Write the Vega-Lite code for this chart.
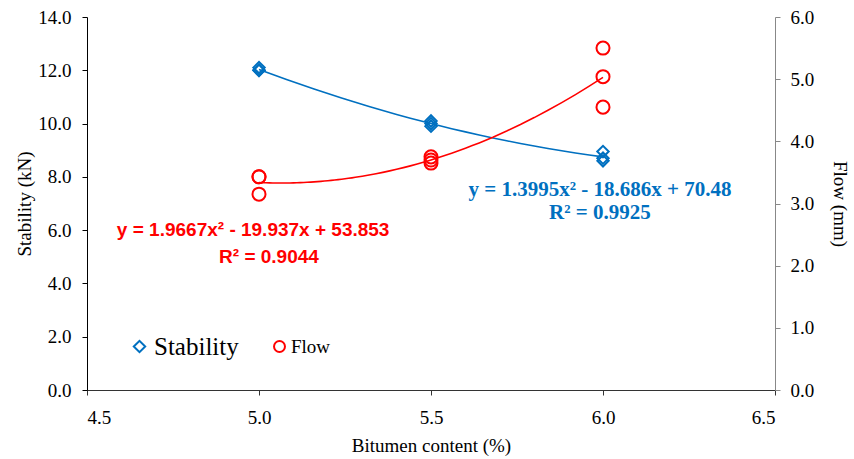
{
  "$schema": "https://vega.github.io/schema/vega-lite/v6.json",
  "width": 688,
  "height": 373,
  "autosize": "none",
  "padding": {"left": 87, "top": 17, "right": 79, "bottom": 69},
  "background": "white",
  "config": {
    "view": {"stroke": null},
    "axis": {"grid": false, "tickSize": 5, "labelFont": "Liberation Serif", "titleFont": "Liberation Serif", "labelFontSize": 19, "titleFontSize": 19, "titleFontWeight": "normal", "labelColor": "black", "titleColor": "black"},
    "legend": {"labelFont": "Liberation Serif", "labelColor": "black"}
  },
  "datasets": {
    "stab": [
      {"x": 5.0, "v": 12.0}, {"x": 5.0, "v": 12.1}, {"x": 5.0, "v": 12.0},
      {"x": 5.5, "v": 10.1}, {"x": 5.5, "v": 10.0}, {"x": 5.5, "v": 9.9},
      {"x": 6.0, "v": 8.95}, {"x": 6.0, "v": 8.7}, {"x": 6.0, "v": 8.6}
    ],
    "flow": [
      {"x": 5.0, "v": 3.43}, {"x": 5.0, "v": 3.43}, {"x": 5.0, "v": 3.15},
      {"x": 5.5, "v": 3.75}, {"x": 5.5, "v": 3.7}, {"x": 5.5, "v": 3.65},
      {"x": 6.0, "v": 5.5}, {"x": 6.0, "v": 5.04}, {"x": 6.0, "v": 4.55}
    ],
    "eqs": [
      {"x": 4.983, "y": 6.0, "t": "y = 1.9667x² - 19.937x + 53.853", "g": "flow"},
      {"x": 5.029, "y": 4.99, "t": "R² = 0.9044", "g": "flow"},
      {"x": 5.991, "y": 7.5, "t": "y = 1.3995x² - 18.686x + 70.48", "g": "stab"},
      {"x": 5.991, "y": 6.64, "t": "R² = 0.9925", "g": "stab"}
    ]
  },
  "layer": [
    {
      "layer": [
        {
          "data": {"name": "stab"},
          "mark": {"type": "point", "shape": "diamond", "filled": false, "strokeWidth": 2, "size": 130, "opacity": 1},
          "encoding": {
            "x": {"field": "x", "type": "quantitative", "scale": {"domain": [4.5, 6.5], "nice": false, "zero": false},
                  "axis": {"title": "Bitumen content (%)", "values": [4.5, 5, 5.5, 6, 6.5], "format": ".1f", "domainColor": "#333", "tickColor": "#333", "labelPadding": 13, "titlePadding": 9,
                           "labelFont": "Liberation Serif", "titleFont": "Liberation Serif", "labelFontSize": 19, "titleFontSize": 19, "titleFontWeight": "normal", "labelColor": "black", "titleColor": "black"}},
            "y": {"field": "v", "type": "quantitative", "scale": {"domain": [0, 14], "nice": false},
                  "axis": {"orient": "left", "title": "Stability (kN)", "values": [0, 2, 4, 6, 8, 10, 12, 14], "format": ".1f", "domainColor": "black", "tickColor": "black", "labelPadding": 11, "titlePadding": 3,
                           "labelFont": "Liberation Serif", "titleFont": "Liberation Serif", "labelFontSize": 19, "titleFontSize": 19, "titleFontWeight": "normal", "labelColor": "black", "titleColor": "black"}},
            "color": {"datum": "Stability", "scale": {"range": ["#0070C0"]},
                      "legend": {"title": null, "orient": "none", "legendX": 40, "legendY": 317, "symbolType": "diamond", "symbolStrokeWidth": 2, "symbolSize": 130, "labelFont": "Liberation Serif", "labelFontSize": 25, "labelColor": "black", "labelOffset": 2, "padding": 0, "symbolFillColor": "transparent"}}
          }
        },
        {
          "data": {"name": "stab"},
          "transform": [{"regression": "v", "on": "x", "method": "poly", "order": 2, "extent": [5, 6]}],
          "mark": {"type": "line", "color": "#0070C0", "strokeWidth": 1.6},
          "encoding": {
            "x": {"field": "x", "type": "quantitative"},
            "y": {"field": "v", "type": "quantitative"}
          }
        },
        {
          "data": {"name": "eqs"},
          "transform": [{"filter": "datum.g == 'stab'"}],
          "mark": {"type": "text", "color": "#0070C0", "fontWeight": "bold", "fontSize": 21, "font": "Liberation Serif"},
          "encoding": {
            "x": {"field": "x", "type": "quantitative"},
            "y": {"field": "y", "type": "quantitative"},
            "text": {"field": "t"}
          }
        },
        {
          "data": {"name": "eqs"},
          "transform": [{"filter": "datum.g == 'flow'"}],
          "mark": {"type": "text", "color": "#FF0000", "fontWeight": "bold", "fontSize": 19, "font": "Liberation Sans"},
          "encoding": {
            "x": {"field": "x", "type": "quantitative"},
            "y": {"field": "y", "type": "quantitative"},
            "text": {"field": "t"}
          }
        }
      ]
    },
    {
      "layer": [
        {
          "data": {"name": "flow"},
          "mark": {"type": "point", "shape": "circle", "filled": false, "strokeWidth": 2, "size": 170, "opacity": 1},
          "encoding": {
            "x": {"field": "x", "type": "quantitative"},
            "y": {"field": "v", "type": "quantitative", "scale": {"domain": [0, 6], "nice": false},
                  "axis": {"orient": "right", "title": "Flow (mm)", "values": [0, 1, 2, 3, 4, 5, 6], "format": ".1f", "domainColor": "#888", "tickColor": "#888", "labelPadding": 10, "titlePadding": 16,
                           "labelFont": "Liberation Serif", "titleFont": "Liberation Serif", "labelFontSize": 19, "titleFontSize": 19, "titleFontWeight": "normal", "labelColor": "black", "titleColor": "black"}},
            "color": {"datum": "Flow", "scale": {"range": ["#FF0000"]},
                      "legend": {"title": null, "orient": "none", "legendX": 183, "legendY": 320, "symbolType": "circle", "symbolStrokeWidth": 2, "symbolSize": 120, "labelFont": "Liberation Serif", "labelFontSize": 19, "labelColor": "black", "labelOffset": 2, "padding": 0, "symbolFillColor": "transparent"}}
          }
        },
        {
          "data": {"name": "flow"},
          "transform": [{"regression": "v", "on": "x", "method": "poly", "order": 2, "extent": [5, 6]}],
          "mark": {"type": "line", "color": "#FF0000", "strokeWidth": 1.6},
          "encoding": {
            "x": {"field": "x", "type": "quantitative"},
            "y": {"field": "v", "type": "quantitative"}
          }
        }
      ]
    }
  ],
  "resolve": {"scale": {"y": "independent", "color": "independent"}, "legend": {"color": "independent"}}
}
